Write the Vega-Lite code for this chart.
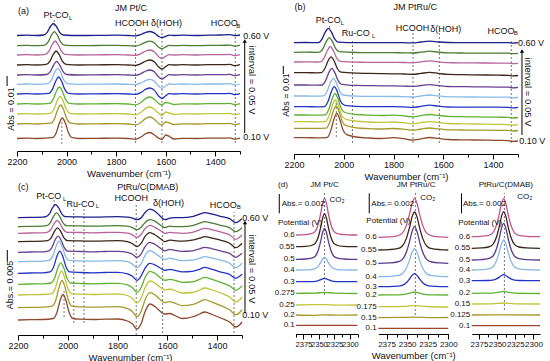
{
"$schema": "https://vega.github.io/schema/vega-lite/v6.json",
"width": 550, "height": 361,
"autosize": {"type": "none"},
"padding": 0,
"config": {
  "view": {"stroke": null},
  "font": "Liberation Sans",
  "axis": {"grid": false, "domainColor": "#000", "tickColor": "#000", "labelColor": "#111", "titleColor": "#111", "labelFontSize": 9, "titleFontSize": 9.5, "titleFontWeight": "normal", "labelPadding": 1, "titlePadding": 2, "labelFlush": false, "labelOverlap": false, "domainWidth": 1, "tickWidth": 1},
  "text": {"color": "#111", "font": "Liberation Sans"}
},
"resolve": {"scale": {"x": "independent", "y": "independent", "color": "independent"}},
"datasets": {
"A": [
{"s":"0.60","x":2200,"y":116.5},{"s":"0.60","x":2160,"y":116.8},{"s":"0.60","x":2120,"y":116.5},{"s":"0.60","x":2093,"y":117},{"s":"0.60","x":2078,"y":119.7},{"s":"0.60","x":2065,"y":125.5},{"s":"0.60","x":2053,"y":128.5},{"s":"0.60","x":2041,"y":125.5},{"s":"0.60","x":2028,"y":119.7},{"s":"0.60","x":2013,"y":117},{"s":"0.60","x":1950,"y":116.5},{"s":"0.60","x":1880,"y":116.6},{"s":"0.60","x":1800,"y":116.8},{"s":"0.60","x":1750,"y":116.5},{"s":"0.60","x":1722,"y":116.2},{"s":"0.60","x":1700,"y":117.5},{"s":"0.60","x":1680,"y":119.7},{"s":"0.60","x":1663,"y":120.5},{"s":"0.60","x":1645,"y":118.9},{"s":"0.60","x":1628,"y":115.5},{"s":"0.60","x":1615,"y":114.5},{"s":"0.60","x":1600,"y":115.7},{"s":"0.60","x":1585,"y":116.8},{"s":"0.60","x":1565,"y":116.5},{"s":"0.60","x":1530,"y":116.8},{"s":"0.60","x":1480,"y":116.5},{"s":"0.60","x":1430,"y":116.8},{"s":"0.60","x":1380,"y":117},{"s":"0.60","x":1340,"y":117.3},{"s":"0.60","x":1320,"y":116.3},{"s":"0.60","x":1300,"y":117},
{"s":"0.55","x":2200,"y":106.3},{"s":"0.55","x":2160,"y":106.6},{"s":"0.55","x":2120,"y":106.3},{"s":"0.55","x":2089,"y":106.9},{"s":"0.55","x":2074,"y":110.1},{"s":"0.55","x":2061,"y":116.8},{"s":"0.55","x":2049,"y":120.3},{"s":"0.55","x":2037,"y":116.8},{"s":"0.55","x":2024,"y":110.1},{"s":"0.55","x":2009,"y":106.9},{"s":"0.55","x":1950,"y":106.3},{"s":"0.55","x":1880,"y":106.5},{"s":"0.55","x":1800,"y":106.6},{"s":"0.55","x":1750,"y":106.3},{"s":"0.55","x":1722,"y":106},{"s":"0.55","x":1700,"y":107.5},{"s":"0.55","x":1680,"y":109.9},{"s":"0.55","x":1663,"y":110.8},{"s":"0.55","x":1645,"y":109},{"s":"0.55","x":1628,"y":104.8},{"s":"0.55","x":1615,"y":103.3},{"s":"0.55","x":1600,"y":105.1},{"s":"0.55","x":1585,"y":106.6},{"s":"0.55","x":1565,"y":106.3},{"s":"0.55","x":1530,"y":106.6},{"s":"0.55","x":1480,"y":106.3},{"s":"0.55","x":1430,"y":106.6},{"s":"0.55","x":1380,"y":106.6},{"s":"0.55","x":1340,"y":106.9},{"s":"0.55","x":1320,"y":105.8},{"s":"0.55","x":1300,"y":106.6},
{"s":"0.50","x":2200,"y":97},{"s":"0.50","x":2160,"y":97.3},{"s":"0.50","x":2120,"y":97},{"s":"0.50","x":2086,"y":97.6},{"s":"0.50","x":2071,"y":100.8},{"s":"0.50","x":2058,"y":107.5},{"s":"0.50","x":2046,"y":111},{"s":"0.50","x":2034,"y":107.5},{"s":"0.50","x":2021,"y":100.8},{"s":"0.50","x":2006,"y":97.6},{"s":"0.50","x":1950,"y":97},{"s":"0.50","x":1880,"y":97.2},{"s":"0.50","x":1800,"y":97.3},{"s":"0.50","x":1750,"y":97},{"s":"0.50","x":1722,"y":96.7},{"s":"0.50","x":1700,"y":98.3},{"s":"0.50","x":1680,"y":101},{"s":"0.50","x":1663,"y":102},{"s":"0.50","x":1645,"y":100},{"s":"0.50","x":1628,"y":95.2},{"s":"0.50","x":1615,"y":93.5},{"s":"0.50","x":1600,"y":95.6},{"s":"0.50","x":1585,"y":97.3},{"s":"0.50","x":1565,"y":97},{"s":"0.50","x":1530,"y":97.3},{"s":"0.50","x":1480,"y":97},{"s":"0.50","x":1430,"y":97.3},{"s":"0.50","x":1380,"y":97.3},{"s":"0.50","x":1340,"y":97.6},{"s":"0.50","x":1320,"y":96.3},{"s":"0.50","x":1300,"y":97.3},
{"s":"0.45","x":2200,"y":87},{"s":"0.45","x":2160,"y":87.3},{"s":"0.45","x":2120,"y":87},{"s":"0.45","x":2082,"y":87.6},{"s":"0.45","x":2067,"y":90.8},{"s":"0.45","x":2054,"y":97.5},{"s":"0.45","x":2042,"y":101},{"s":"0.45","x":2030,"y":97.5},{"s":"0.45","x":2017,"y":90.8},{"s":"0.45","x":2002,"y":87.6},{"s":"0.45","x":1950,"y":87},{"s":"0.45","x":1880,"y":87.2},{"s":"0.45","x":1800,"y":87.3},{"s":"0.45","x":1750,"y":87},{"s":"0.45","x":1722,"y":86.7},{"s":"0.45","x":1700,"y":88.3},{"s":"0.45","x":1680,"y":91},{"s":"0.45","x":1663,"y":92},{"s":"0.45","x":1645,"y":90},{"s":"0.45","x":1628,"y":85},{"s":"0.45","x":1615,"y":83},{"s":"0.45","x":1600,"y":85.4},{"s":"0.45","x":1585,"y":87.3},{"s":"0.45","x":1565,"y":87},{"s":"0.45","x":1530,"y":87.3},{"s":"0.45","x":1480,"y":87},{"s":"0.45","x":1430,"y":87.3},{"s":"0.45","x":1380,"y":87.3},{"s":"0.45","x":1340,"y":87.6},{"s":"0.45","x":1320,"y":86.3},{"s":"0.45","x":1300,"y":87.3},
{"s":"0.40","x":2200,"y":77},{"s":"0.40","x":2160,"y":77.3},{"s":"0.40","x":2120,"y":77},{"s":"0.40","x":2080,"y":77.5},{"s":"0.40","x":2065,"y":80.6},{"s":"0.40","x":2052,"y":87.1},{"s":"0.40","x":2040,"y":90.5},{"s":"0.40","x":2028,"y":87.1},{"s":"0.40","x":2015,"y":80.6},{"s":"0.40","x":2000,"y":77.5},{"s":"0.40","x":1950,"y":77},{"s":"0.40","x":1880,"y":77.2},{"s":"0.40","x":1800,"y":77.3},{"s":"0.40","x":1750,"y":77},{"s":"0.40","x":1722,"y":76.7},{"s":"0.40","x":1700,"y":78.3},{"s":"0.40","x":1680,"y":81},{"s":"0.40","x":1663,"y":82},{"s":"0.40","x":1645,"y":80},{"s":"0.40","x":1628,"y":75},{"s":"0.40","x":1615,"y":73},{"s":"0.40","x":1600,"y":75.4},{"s":"0.40","x":1585,"y":77.3},{"s":"0.40","x":1565,"y":77},{"s":"0.40","x":1530,"y":77.3},{"s":"0.40","x":1480,"y":77},{"s":"0.40","x":1430,"y":77.3},{"s":"0.40","x":1380,"y":77.3},{"s":"0.40","x":1340,"y":77.6},{"s":"0.40","x":1320,"y":76.3},{"s":"0.40","x":1300,"y":77.3},
{"s":"0.35","x":2200,"y":67.7},{"s":"0.35","x":2160,"y":68},{"s":"0.35","x":2120,"y":67.7},{"s":"0.35","x":2076,"y":68.3},{"s":"0.35","x":2061,"y":72},{"s":"0.35","x":2048,"y":79.7},{"s":"0.35","x":2036,"y":83.7},{"s":"0.35","x":2024,"y":79.7},{"s":"0.35","x":2011,"y":72},{"s":"0.35","x":1996,"y":68.3},{"s":"0.35","x":1950,"y":67.7},{"s":"0.35","x":1880,"y":67.9},{"s":"0.35","x":1800,"y":68},{"s":"0.35","x":1750,"y":67.7},{"s":"0.35","x":1722,"y":67.4},{"s":"0.35","x":1700,"y":69},{"s":"0.35","x":1680,"y":71.7},{"s":"0.35","x":1663,"y":72.7},{"s":"0.35","x":1645,"y":70.7},{"s":"0.35","x":1628,"y":65.7},{"s":"0.35","x":1615,"y":63.7},{"s":"0.35","x":1600,"y":66.1},{"s":"0.35","x":1585,"y":68},{"s":"0.35","x":1565,"y":67.7},{"s":"0.35","x":1530,"y":68},{"s":"0.35","x":1480,"y":67.7},{"s":"0.35","x":1430,"y":68},{"s":"0.35","x":1380,"y":68},{"s":"0.35","x":1340,"y":68.3},{"s":"0.35","x":1320,"y":67},{"s":"0.35","x":1300,"y":68},
{"s":"0.30","x":2200,"y":58},{"s":"0.30","x":2160,"y":58.3},{"s":"0.30","x":2120,"y":58},{"s":"0.30","x":2072,"y":58.7},{"s":"0.30","x":2057,"y":62.6},{"s":"0.30","x":2044,"y":70.8},{"s":"0.30","x":2032,"y":75},{"s":"0.30","x":2020,"y":70.8},{"s":"0.30","x":2007,"y":62.6},{"s":"0.30","x":1992,"y":58.7},{"s":"0.30","x":1950,"y":58},{"s":"0.30","x":1880,"y":58.2},{"s":"0.30","x":1800,"y":58.3},{"s":"0.30","x":1750,"y":58},{"s":"0.30","x":1722,"y":57.6},{"s":"0.30","x":1700,"y":59.5},{"s":"0.30","x":1680,"y":62.8},{"s":"0.30","x":1663,"y":64},{"s":"0.30","x":1645,"y":61.6},{"s":"0.30","x":1628,"y":55.8},{"s":"0.30","x":1615,"y":53.5},{"s":"0.30","x":1600,"y":56.2},{"s":"0.30","x":1585,"y":58.3},{"s":"0.30","x":1565,"y":58},{"s":"0.30","x":1530,"y":58.3},{"s":"0.30","x":1480,"y":58},{"s":"0.30","x":1430,"y":58.3},{"s":"0.30","x":1380,"y":58.3},{"s":"0.30","x":1340,"y":58.6},{"s":"0.30","x":1320,"y":57.3},{"s":"0.30","x":1300,"y":58.3},
{"s":"0.25","x":2200,"y":48},{"s":"0.25","x":2160,"y":48.3},{"s":"0.25","x":2120,"y":48},{"s":"0.25","x":2069,"y":48.7},{"s":"0.25","x":2054,"y":52.6},{"s":"0.25","x":2041,"y":60.8},{"s":"0.25","x":2029,"y":65},{"s":"0.25","x":2017,"y":60.8},{"s":"0.25","x":2004,"y":52.6},{"s":"0.25","x":1989,"y":48.7},{"s":"0.25","x":1950,"y":48},{"s":"0.25","x":1880,"y":48.2},{"s":"0.25","x":1800,"y":48.3},{"s":"0.25","x":1750,"y":48},{"s":"0.25","x":1722,"y":47.2},{"s":"0.25","x":1700,"y":49.5},{"s":"0.25","x":1680,"y":53.6},{"s":"0.25","x":1663,"y":55},{"s":"0.25","x":1645,"y":52.5},{"s":"0.25","x":1628,"y":48.5},{"s":"0.25","x":1615,"y":47},{"s":"0.25","x":1600,"y":49.5},{"s":"0.25","x":1585,"y":48.8},{"s":"0.25","x":1565,"y":47.5},{"s":"0.25","x":1530,"y":48.2},{"s":"0.25","x":1480,"y":48},{"s":"0.25","x":1430,"y":48.3},{"s":"0.25","x":1380,"y":48.3},{"s":"0.25","x":1340,"y":48.6},{"s":"0.25","x":1320,"y":47.3},{"s":"0.25","x":1300,"y":48.3},
{"s":"0.20","x":2200,"y":38},{"s":"0.20","x":2160,"y":38.3},{"s":"0.20","x":2120,"y":38},{"s":"0.20","x":2066,"y":38.7},{"s":"0.20","x":2051,"y":42.7},{"s":"0.20","x":2038,"y":51.1},{"s":"0.20","x":2026,"y":55.5},{"s":"0.20","x":2014,"y":51.1},{"s":"0.20","x":2001,"y":42.7},{"s":"0.20","x":1986,"y":38.7},{"s":"0.20","x":1950,"y":38},{"s":"0.20","x":1880,"y":38.2},{"s":"0.20","x":1800,"y":38.3},{"s":"0.20","x":1750,"y":38},{"s":"0.20","x":1722,"y":37.2},{"s":"0.20","x":1700,"y":39.5},{"s":"0.20","x":1680,"y":43.6},{"s":"0.20","x":1663,"y":45},{"s":"0.20","x":1645,"y":42.5},{"s":"0.20","x":1628,"y":38.5},{"s":"0.20","x":1615,"y":36.5},{"s":"0.20","x":1600,"y":40},{"s":"0.20","x":1585,"y":39},{"s":"0.20","x":1565,"y":37.5},{"s":"0.20","x":1530,"y":38.2},{"s":"0.20","x":1480,"y":38},{"s":"0.20","x":1430,"y":38.3},{"s":"0.20","x":1380,"y":38.3},{"s":"0.20","x":1340,"y":38.6},{"s":"0.20","x":1320,"y":37.3},{"s":"0.20","x":1300,"y":38.3},
{"s":"0.15","x":2200,"y":28},{"s":"0.15","x":2160,"y":28.3},{"s":"0.15","x":2120,"y":28},{"s":"0.15","x":2064,"y":28.8},{"s":"0.15","x":2049,"y":33.1},{"s":"0.15","x":2036,"y":42.3},{"s":"0.15","x":2024,"y":47},{"s":"0.15","x":2012,"y":42.3},{"s":"0.15","x":1999,"y":33.1},{"s":"0.15","x":1984,"y":28.8},{"s":"0.15","x":1950,"y":28},{"s":"0.15","x":1880,"y":28.2},{"s":"0.15","x":1800,"y":28.3},{"s":"0.15","x":1750,"y":28},{"s":"0.15","x":1722,"y":27.2},{"s":"0.15","x":1700,"y":29.5},{"s":"0.15","x":1680,"y":33.6},{"s":"0.15","x":1663,"y":35},{"s":"0.15","x":1645,"y":32.5},{"s":"0.15","x":1628,"y":28.5},{"s":"0.15","x":1615,"y":27},{"s":"0.15","x":1600,"y":30},{"s":"0.15","x":1585,"y":29},{"s":"0.15","x":1565,"y":27.5},{"s":"0.15","x":1530,"y":28.2},{"s":"0.15","x":1480,"y":28},{"s":"0.15","x":1430,"y":28.3},{"s":"0.15","x":1380,"y":28.3},{"s":"0.15","x":1340,"y":28.6},{"s":"0.15","x":1320,"y":27.3},{"s":"0.15","x":1300,"y":28.3},
{"s":"0.10","x":2200,"y":13.5},{"s":"0.10","x":2160,"y":13.8},{"s":"0.10","x":2120,"y":13.5},{"s":"0.10","x":2057,"y":14.3},{"s":"0.10","x":2042,"y":19},{"s":"0.10","x":2029,"y":28.9},{"s":"0.10","x":2017,"y":34},{"s":"0.10","x":2005,"y":28.9},{"s":"0.10","x":1992,"y":19},{"s":"0.10","x":1977,"y":14.3},{"s":"0.10","x":1950,"y":13.5},{"s":"0.10","x":1880,"y":13.7},{"s":"0.10","x":1800,"y":13.8},{"s":"0.10","x":1750,"y":13.5},{"s":"0.10","x":1722,"y":12.7},{"s":"0.10","x":1700,"y":15},{"s":"0.10","x":1680,"y":18.3},{"s":"0.10","x":1663,"y":19.5},{"s":"0.10","x":1645,"y":17},{"s":"0.10","x":1628,"y":13.8},{"s":"0.10","x":1615,"y":12.5},{"s":"0.10","x":1600,"y":17},{"s":"0.10","x":1585,"y":15.5},{"s":"0.10","x":1565,"y":13},{"s":"0.10","x":1530,"y":13.7},{"s":"0.10","x":1480,"y":13.5},{"s":"0.10","x":1430,"y":13.8},{"s":"0.10","x":1380,"y":13.8},{"s":"0.10","x":1340,"y":14.1},{"s":"0.10","x":1320,"y":12.8},{"s":"0.10","x":1300,"y":13.8}
],
"B": [
{"s":"0.60","x":2200,"y":109.3},{"s":"0.60","x":2150,"y":109.5},{"s":"0.60","x":2110,"y":109.3},{"s":"0.60","x":2102,"y":109.4},{"s":"0.60","x":2087,"y":113.2},{"s":"0.60","x":2074,"y":120.1},{"s":"0.60","x":2062,"y":123.7},{"s":"0.60","x":2050,"y":120.1},{"s":"0.60","x":2037,"y":113.2},{"s":"0.60","x":2022,"y":109.9},{"s":"0.60","x":1950,"y":109.3},{"s":"0.60","x":1900,"y":109.3},{"s":"0.60","x":1850,"y":109.4},{"s":"0.60","x":1800,"y":109.3},{"s":"0.60","x":1760,"y":109.3},{"s":"0.60","x":1722,"y":109.1},{"s":"0.60","x":1690,"y":110},{"s":"0.60","x":1655,"y":110.8},{"s":"0.60","x":1620,"y":110},{"s":"0.60","x":1580,"y":109.5},{"s":"0.60","x":1530,"y":109.3},{"s":"0.60","x":1480,"y":109.3},{"s":"0.60","x":1430,"y":109.4},{"s":"0.60","x":1380,"y":109.3},{"s":"0.60","x":1340,"y":109.4},{"s":"0.60","x":1320,"y":108.8},{"s":"0.60","x":1300,"y":109.3},
{"s":"0.55","x":2200,"y":99.7},{"s":"0.55","x":2150,"y":99.8},{"s":"0.55","x":2110,"y":99.7},{"s":"0.55","x":2098,"y":99.8},{"s":"0.55","x":2083,"y":103.6},{"s":"0.55","x":2070,"y":110.6},{"s":"0.55","x":2058,"y":114.3},{"s":"0.55","x":2046,"y":110.6},{"s":"0.55","x":2033,"y":103.6},{"s":"0.55","x":2018,"y":100.3},{"s":"0.55","x":1950,"y":99.5},{"s":"0.55","x":1900,"y":99.4},{"s":"0.55","x":1850,"y":99.4},{"s":"0.55","x":1800,"y":99.3},{"s":"0.55","x":1760,"y":99.2},{"s":"0.55","x":1722,"y":99},{"s":"0.55","x":1690,"y":99.8},{"s":"0.55","x":1655,"y":100.8},{"s":"0.55","x":1620,"y":99.8},{"s":"0.55","x":1580,"y":99.1},{"s":"0.55","x":1530,"y":99},{"s":"0.55","x":1480,"y":98.9},{"s":"0.55","x":1430,"y":98.9},{"s":"0.55","x":1380,"y":98.8},{"s":"0.55","x":1340,"y":98.8},{"s":"0.55","x":1320,"y":98.3},{"s":"0.55","x":1300,"y":98.7},
{"s":"0.50","x":2200,"y":90},{"s":"0.50","x":2150,"y":90.1},{"s":"0.50","x":2110,"y":90},{"s":"0.50","x":2094,"y":90.1},{"s":"0.50","x":2079,"y":94.1},{"s":"0.50","x":2066,"y":101.5},{"s":"0.50","x":2054,"y":105.3},{"s":"0.50","x":2042,"y":101.5},{"s":"0.50","x":2029,"y":94.1},{"s":"0.50","x":2014,"y":90.6},{"s":"0.50","x":1950,"y":89.8},{"s":"0.50","x":1900,"y":89.7},{"s":"0.50","x":1850,"y":89.7},{"s":"0.50","x":1800,"y":89.6},{"s":"0.50","x":1760,"y":89.5},{"s":"0.50","x":1722,"y":89.2},{"s":"0.50","x":1690,"y":90.2},{"s":"0.50","x":1655,"y":91.2},{"s":"0.50","x":1620,"y":90.2},{"s":"0.50","x":1580,"y":89.3},{"s":"0.50","x":1530,"y":89.2},{"s":"0.50","x":1480,"y":89.1},{"s":"0.50","x":1430,"y":89},{"s":"0.50","x":1380,"y":88.9},{"s":"0.50","x":1340,"y":88.8},{"s":"0.50","x":1320,"y":88.3},{"s":"0.50","x":1300,"y":88.7},
{"s":"0.45","x":2200,"y":79.3},{"s":"0.45","x":2150,"y":79.3},{"s":"0.45","x":2110,"y":79.2},{"s":"0.45","x":2091,"y":79.3},{"s":"0.45","x":2076,"y":83.5},{"s":"0.45","x":2063,"y":91.2},{"s":"0.45","x":2051,"y":95.2},{"s":"0.45","x":2039,"y":91.2},{"s":"0.45","x":2026,"y":83.5},{"s":"0.45","x":2011,"y":79.8},{"s":"0.45","x":1950,"y":78.8},{"s":"0.45","x":1900,"y":78.6},{"s":"0.45","x":1850,"y":78.4},{"s":"0.45","x":1800,"y":78.2},{"s":"0.45","x":1760,"y":78},{"s":"0.45","x":1722,"y":77.7},{"s":"0.45","x":1690,"y":78.6},{"s":"0.45","x":1655,"y":79.6},{"s":"0.45","x":1620,"y":78.6},{"s":"0.45","x":1580,"y":77.6},{"s":"0.45","x":1530,"y":77.4},{"s":"0.45","x":1480,"y":77.2},{"s":"0.45","x":1430,"y":77},{"s":"0.45","x":1380,"y":76.8},{"s":"0.45","x":1340,"y":76.7},{"s":"0.45","x":1320,"y":76.1},{"s":"0.45","x":1300,"y":76.5},
{"s":"0.40","x":2200,"y":67},{"s":"0.40","x":2150,"y":67},{"s":"0.40","x":2110,"y":66.9},{"s":"0.40","x":2088,"y":67},{"s":"0.40","x":2073,"y":71.4},{"s":"0.40","x":2060,"y":79.4},{"s":"0.40","x":2048,"y":83.7},{"s":"0.40","x":2036,"y":79.4},{"s":"0.40","x":2023,"y":71.4},{"s":"0.40","x":2008,"y":67.7},{"s":"0.40","x":1950,"y":66.6},{"s":"0.40","x":1900,"y":66.4},{"s":"0.40","x":1850,"y":66.2},{"s":"0.40","x":1800,"y":66.1},{"s":"0.40","x":1760,"y":65.9},{"s":"0.40","x":1722,"y":65.6},{"s":"0.40","x":1690,"y":66.5},{"s":"0.40","x":1655,"y":67.4},{"s":"0.40","x":1620,"y":66.4},{"s":"0.40","x":1580,"y":65.5},{"s":"0.40","x":1530,"y":65.4},{"s":"0.40","x":1480,"y":65.2},{"s":"0.40","x":1430,"y":65.1},{"s":"0.40","x":1380,"y":64.9},{"s":"0.40","x":1340,"y":64.8},{"s":"0.40","x":1320,"y":64.2},{"s":"0.40","x":1300,"y":64.7},
{"s":"0.35","x":2200,"y":56},{"s":"0.35","x":2150,"y":56},{"s":"0.35","x":2110,"y":55.9},{"s":"0.35","x":2082,"y":56.1},{"s":"0.35","x":2067,"y":60.8},{"s":"0.35","x":2054,"y":69.3},{"s":"0.35","x":2042,"y":73.7},{"s":"0.35","x":2030,"y":69.3},{"s":"0.35","x":2017,"y":60.8},{"s":"0.35","x":2002,"y":57},{"s":"0.35","x":1950,"y":55.8},{"s":"0.35","x":1900,"y":55.6},{"s":"0.35","x":1850,"y":55.6},{"s":"0.35","x":1800,"y":55.5},{"s":"0.35","x":1760,"y":55.4},{"s":"0.35","x":1722,"y":55},{"s":"0.35","x":1690,"y":56},{"s":"0.35","x":1655,"y":57},{"s":"0.35","x":1620,"y":56},{"s":"0.35","x":1580,"y":55.2},{"s":"0.35","x":1530,"y":55.1},{"s":"0.35","x":1480,"y":55},{"s":"0.35","x":1430,"y":54.9},{"s":"0.35","x":1380,"y":54.8},{"s":"0.35","x":1340,"y":54.8},{"s":"0.35","x":1320,"y":54.2},{"s":"0.35","x":1300,"y":54.7},
{"s":"0.30","x":2200,"y":45.3},{"s":"0.30","x":2150,"y":45.3},{"s":"0.30","x":2110,"y":45.2},{"s":"0.30","x":2078,"y":45.4},{"s":"0.30","x":2063,"y":50.7},{"s":"0.30","x":2050,"y":60.3},{"s":"0.30","x":2038,"y":65.3},{"s":"0.30","x":2026,"y":60.3},{"s":"0.30","x":2013,"y":50.7},{"s":"0.30","x":1998,"y":46.8},{"s":"0.30","x":1950,"y":45.6},{"s":"0.30","x":1900,"y":45.3},{"s":"0.30","x":1850,"y":45.3},{"s":"0.30","x":1800,"y":45.4},{"s":"0.30","x":1760,"y":45.1},{"s":"0.30","x":1722,"y":44.6},{"s":"0.30","x":1690,"y":45.7},{"s":"0.30","x":1655,"y":46.8},{"s":"0.30","x":1620,"y":45.8},{"s":"0.30","x":1580,"y":45},{"s":"0.30","x":1530,"y":44.9},{"s":"0.30","x":1480,"y":44.9},{"s":"0.30","x":1430,"y":44.8},{"s":"0.30","x":1380,"y":44.8},{"s":"0.30","x":1340,"y":44.7},{"s":"0.30","x":1320,"y":44.2},{"s":"0.30","x":1300,"y":44.7},
{"s":"0.25","x":2200,"y":37},{"s":"0.25","x":2150,"y":37},{"s":"0.25","x":2110,"y":36.9},{"s":"0.25","x":2075,"y":37.1},{"s":"0.25","x":2060,"y":42.8},{"s":"0.25","x":2047,"y":53},{"s":"0.25","x":2035,"y":58.5},{"s":"0.25","x":2023,"y":53},{"s":"0.25","x":2010,"y":43.5},{"s":"0.25","x":1995,"y":39.5},{"s":"0.25","x":1950,"y":37.5},{"s":"0.25","x":1900,"y":36.8},{"s":"0.25","x":1850,"y":36.5},{"s":"0.25","x":1800,"y":36.9},{"s":"0.25","x":1760,"y":36.2},{"s":"0.25","x":1722,"y":35.2},{"s":"0.25","x":1690,"y":36.4},{"s":"0.25","x":1655,"y":37.5},{"s":"0.25","x":1620,"y":36.6},{"s":"0.25","x":1580,"y":35.6},{"s":"0.25","x":1530,"y":35.3},{"s":"0.25","x":1480,"y":35.1},{"s":"0.25","x":1430,"y":34.9},{"s":"0.25","x":1380,"y":34.8},{"s":"0.25","x":1340,"y":34.6},{"s":"0.25","x":1320,"y":34},{"s":"0.25","x":1300,"y":34.5},
{"s":"0.20","x":2200,"y":30.3},{"s":"0.20","x":2150,"y":30.3},{"s":"0.20","x":2110,"y":30.2},{"s":"0.20","x":2074,"y":30.4},{"s":"0.20","x":2059,"y":36.2},{"s":"0.20","x":2046,"y":46.5},{"s":"0.20","x":2034,"y":52},{"s":"0.20","x":2022,"y":46.5},{"s":"0.20","x":2009,"y":37},{"s":"0.20","x":1994,"y":33},{"s":"0.20","x":1950,"y":30.8},{"s":"0.20","x":1900,"y":30},{"s":"0.20","x":1850,"y":29.6},{"s":"0.20","x":1800,"y":30},{"s":"0.20","x":1760,"y":29.3},{"s":"0.20","x":1722,"y":28.2},{"s":"0.20","x":1690,"y":29.4},{"s":"0.20","x":1655,"y":30.4},{"s":"0.20","x":1620,"y":29.5},{"s":"0.20","x":1580,"y":28.5},{"s":"0.20","x":1530,"y":28.2},{"s":"0.20","x":1480,"y":28},{"s":"0.20","x":1430,"y":27.8},{"s":"0.20","x":1380,"y":27.6},{"s":"0.20","x":1340,"y":27.4},{"s":"0.20","x":1320,"y":26.8},{"s":"0.20","x":1300,"y":27.3},
{"s":"0.15","x":2200,"y":23.7},{"s":"0.15","x":2150,"y":23.7},{"s":"0.15","x":2110,"y":23.6},{"s":"0.15","x":2071,"y":23.8},{"s":"0.15","x":2056,"y":29.7},{"s":"0.15","x":2043,"y":40.3},{"s":"0.15","x":2031,"y":46},{"s":"0.15","x":2019,"y":40.3},{"s":"0.15","x":2006,"y":30.5},{"s":"0.15","x":1991,"y":26.3},{"s":"0.15","x":1950,"y":24.2},{"s":"0.15","x":1900,"y":23.4},{"s":"0.15","x":1850,"y":23},{"s":"0.15","x":1800,"y":23.5},{"s":"0.15","x":1760,"y":22.9},{"s":"0.15","x":1722,"y":21.8},{"s":"0.15","x":1690,"y":23},{"s":"0.15","x":1655,"y":24},{"s":"0.15","x":1620,"y":23.1},{"s":"0.15","x":1580,"y":22.2},{"s":"0.15","x":1530,"y":22},{"s":"0.15","x":1480,"y":21.9},{"s":"0.15","x":1430,"y":21.8},{"s":"0.15","x":1380,"y":21.7},{"s":"0.15","x":1340,"y":21.6},{"s":"0.15","x":1320,"y":21},{"s":"0.15","x":1300,"y":21.5},
{"s":"0.10","x":2200,"y":14.3},{"s":"0.10","x":2150,"y":14.3},{"s":"0.10","x":2110,"y":14.2},{"s":"0.10","x":2068,"y":14.4},{"s":"0.10","x":2053,"y":20.8},{"s":"0.10","x":2040,"y":32.5},{"s":"0.10","x":2028,"y":38.7},{"s":"0.10","x":2016,"y":32.5},{"s":"0.10","x":2003,"y":22},{"s":"0.10","x":1988,"y":17.3},{"s":"0.10","x":1950,"y":15},{"s":"0.10","x":1900,"y":14},{"s":"0.10","x":1850,"y":13.5},{"s":"0.10","x":1800,"y":14.3},{"s":"0.10","x":1760,"y":13.3},{"s":"0.10","x":1722,"y":11.8},{"s":"0.10","x":1690,"y":13.2},{"s":"0.10","x":1655,"y":14.5},{"s":"0.10","x":1620,"y":13.6},{"s":"0.10","x":1580,"y":12.5},{"s":"0.10","x":1530,"y":12.2},{"s":"0.10","x":1480,"y":12},{"s":"0.10","x":1430,"y":11.8},{"s":"0.10","x":1380,"y":11.6},{"s":"0.10","x":1340,"y":11.4},{"s":"0.10","x":1320,"y":10.6},{"s":"0.10","x":1300,"y":11}
],
"C": [
{"s":"0.60","x":2200,"y":117.3},{"s":"0.60","x":2150,"y":117.6},{"s":"0.60","x":2100,"y":117.8},{"s":"0.60","x":2089,"y":118.3},{"s":"0.60","x":2074,"y":121.2},{"s":"0.60","x":2061,"y":127.3},{"s":"0.60","x":2049,"y":130.5},{"s":"0.60","x":2037,"y":127.3},{"s":"0.60","x":2024,"y":121.2},{"s":"0.60","x":2009,"y":118.3},{"s":"0.60","x":1950,"y":118.1},{"s":"0.60","x":1900,"y":117.8},{"s":"0.60","x":1850,"y":118.1},{"s":"0.60","x":1800,"y":118.3},{"s":"0.60","x":1760,"y":117.8},{"s":"0.60","x":1740,"y":116.8},{"s":"0.60","x":1722,"y":115.3},{"s":"0.60","x":1705,"y":117.3},{"s":"0.60","x":1690,"y":122.3},{"s":"0.60","x":1670,"y":125.8},{"s":"0.60","x":1650,"y":123.8},{"s":"0.60","x":1630,"y":119.3},{"s":"0.60","x":1610,"y":115.3},{"s":"0.60","x":1590,"y":116.8},{"s":"0.60","x":1570,"y":117.3},{"s":"0.60","x":1540,"y":117.3},{"s":"0.60","x":1500,"y":118.3},{"s":"0.60","x":1470,"y":120.8},{"s":"0.60","x":1450,"y":122.3},{"s":"0.60","x":1420,"y":120.8},{"s":"0.60","x":1380,"y":118.3},{"s":"0.60","x":1350,"y":116.3},{"s":"0.60","x":1325,"y":112.3},{"s":"0.60","x":1310,"y":114.3},{"s":"0.60","x":1300,"y":116.3},
{"s":"0.55","x":2200,"y":108.3},{"s":"0.55","x":2150,"y":108.6},{"s":"0.55","x":2100,"y":108.8},{"s":"0.55","x":2085,"y":109.3},{"s":"0.55","x":2070,"y":112.4},{"s":"0.55","x":2057,"y":118.8},{"s":"0.55","x":2045,"y":122.1},{"s":"0.55","x":2033,"y":118.8},{"s":"0.55","x":2020,"y":112.4},{"s":"0.55","x":2005,"y":109.3},{"s":"0.55","x":1950,"y":109.1},{"s":"0.55","x":1900,"y":108.8},{"s":"0.55","x":1850,"y":109.1},{"s":"0.55","x":1800,"y":109.3},{"s":"0.55","x":1760,"y":108.8},{"s":"0.55","x":1740,"y":107.3},{"s":"0.55","x":1722,"y":105.3},{"s":"0.55","x":1705,"y":107.8},{"s":"0.55","x":1690,"y":112.3},{"s":"0.55","x":1670,"y":115.3},{"s":"0.55","x":1650,"y":113.8},{"s":"0.55","x":1630,"y":110.3},{"s":"0.55","x":1610,"y":107.3},{"s":"0.55","x":1590,"y":108.8},{"s":"0.55","x":1570,"y":108.3},{"s":"0.55","x":1540,"y":108.3},{"s":"0.55","x":1500,"y":109.3},{"s":"0.55","x":1470,"y":111.8},{"s":"0.55","x":1450,"y":113.3},{"s":"0.55","x":1420,"y":111.8},{"s":"0.55","x":1380,"y":109.3},{"s":"0.55","x":1350,"y":107.3},{"s":"0.55","x":1325,"y":103.3},{"s":"0.55","x":1310,"y":105.3},{"s":"0.55","x":1300,"y":107.3},
{"s":"0.50","x":2200,"y":101.7},{"s":"0.50","x":2150,"y":102},{"s":"0.50","x":2100,"y":102.2},{"s":"0.50","x":2083,"y":102.7},{"s":"0.50","x":2068,"y":105.5},{"s":"0.50","x":2055,"y":111.4},{"s":"0.50","x":2043,"y":114.5},{"s":"0.50","x":2031,"y":111.4},{"s":"0.50","x":2018,"y":105.5},{"s":"0.50","x":2003,"y":102.7},{"s":"0.50","x":1950,"y":102.5},{"s":"0.50","x":1900,"y":102.2},{"s":"0.50","x":1850,"y":102.5},{"s":"0.50","x":1800,"y":102.7},{"s":"0.50","x":1760,"y":101.9},{"s":"0.50","x":1740,"y":100.2},{"s":"0.50","x":1722,"y":97.7},{"s":"0.50","x":1705,"y":100.7},{"s":"0.50","x":1690,"y":106.2},{"s":"0.50","x":1670,"y":109.7},{"s":"0.50","x":1650,"y":107.7},{"s":"0.50","x":1630,"y":104.7},{"s":"0.50","x":1610,"y":101.7},{"s":"0.50","x":1590,"y":102.7},{"s":"0.50","x":1570,"y":102.2},{"s":"0.50","x":1540,"y":101.7},{"s":"0.50","x":1500,"y":102.7},{"s":"0.50","x":1470,"y":105.2},{"s":"0.50","x":1450,"y":106.7},{"s":"0.50","x":1420,"y":105.2},{"s":"0.50","x":1380,"y":102.7},{"s":"0.50","x":1350,"y":100.2},{"s":"0.50","x":1325,"y":95.7},{"s":"0.50","x":1310,"y":97.7},{"s":"0.50","x":1300,"y":100.2},
{"s":"0.45","x":2200,"y":93.3},{"s":"0.45","x":2150,"y":93.6},{"s":"0.45","x":2100,"y":93.8},{"s":"0.45","x":2081,"y":94.3},{"s":"0.45","x":2066,"y":97.4},{"s":"0.45","x":2053,"y":103.8},{"s":"0.45","x":2041,"y":107.1},{"s":"0.45","x":2029,"y":103.8},{"s":"0.45","x":2016,"y":97.4},{"s":"0.45","x":2001,"y":94.3},{"s":"0.45","x":1950,"y":94.1},{"s":"0.45","x":1900,"y":93.8},{"s":"0.45","x":1850,"y":94.1},{"s":"0.45","x":1800,"y":94.3},{"s":"0.45","x":1760,"y":93.3},{"s":"0.45","x":1740,"y":91.3},{"s":"0.45","x":1722,"y":88.3},{"s":"0.45","x":1705,"y":91.8},{"s":"0.45","x":1690,"y":98.3},{"s":"0.45","x":1670,"y":102.3},{"s":"0.45","x":1650,"y":100.3},{"s":"0.45","x":1630,"y":96.8},{"s":"0.45","x":1610,"y":93.3},{"s":"0.45","x":1590,"y":94.8},{"s":"0.45","x":1570,"y":94.3},{"s":"0.45","x":1540,"y":93.8},{"s":"0.45","x":1500,"y":94.8},{"s":"0.45","x":1470,"y":96.8},{"s":"0.45","x":1450,"y":98.3},{"s":"0.45","x":1420,"y":96.8},{"s":"0.45","x":1380,"y":94.3},{"s":"0.45","x":1350,"y":91.8},{"s":"0.45","x":1325,"y":87.3},{"s":"0.45","x":1310,"y":89.3},{"s":"0.45","x":1300,"y":91.8},
{"s":"0.40","x":2200,"y":82.7},{"s":"0.40","x":2150,"y":83},{"s":"0.40","x":2100,"y":83.2},{"s":"0.40","x":2079,"y":83.8},{"s":"0.40","x":2064,"y":87.4},{"s":"0.40","x":2051,"y":95},{"s":"0.40","x":2039,"y":98.9},{"s":"0.40","x":2027,"y":95},{"s":"0.40","x":2014,"y":87.4},{"s":"0.40","x":1999,"y":83.8},{"s":"0.40","x":1950,"y":83.5},{"s":"0.40","x":1900,"y":83.2},{"s":"0.40","x":1850,"y":83.5},{"s":"0.40","x":1800,"y":83.7},{"s":"0.40","x":1760,"y":82.7},{"s":"0.40","x":1740,"y":80.7},{"s":"0.40","x":1722,"y":77.7},{"s":"0.40","x":1705,"y":81.2},{"s":"0.40","x":1690,"y":88.2},{"s":"0.40","x":1670,"y":92.7},{"s":"0.40","x":1650,"y":90.7},{"s":"0.40","x":1630,"y":87.2},{"s":"0.40","x":1610,"y":84.2},{"s":"0.40","x":1590,"y":85.7},{"s":"0.40","x":1570,"y":84.7},{"s":"0.40","x":1540,"y":83.7},{"s":"0.40","x":1500,"y":84.2},{"s":"0.40","x":1470,"y":86.2},{"s":"0.40","x":1450,"y":87.7},{"s":"0.40","x":1420,"y":86.2},{"s":"0.40","x":1380,"y":83.7},{"s":"0.40","x":1350,"y":81.7},{"s":"0.40","x":1325,"y":77.7},{"s":"0.40","x":1310,"y":79.7},{"s":"0.40","x":1300,"y":81.7},
{"s":"0.35","x":2200,"y":73.3},{"s":"0.35","x":2150,"y":73.6},{"s":"0.35","x":2100,"y":73.8},{"s":"0.35","x":2075,"y":74.6},{"s":"0.35","x":2060,"y":79.2},{"s":"0.35","x":2047,"y":88.8},{"s":"0.35","x":2035,"y":93.8},{"s":"0.35","x":2023,"y":88.8},{"s":"0.35","x":2010,"y":79.2},{"s":"0.35","x":1995,"y":74.6},{"s":"0.35","x":1950,"y":74.1},{"s":"0.35","x":1900,"y":73.8},{"s":"0.35","x":1850,"y":74.1},{"s":"0.35","x":1800,"y":74.3},{"s":"0.35","x":1760,"y":73.3},{"s":"0.35","x":1740,"y":70.8},{"s":"0.35","x":1722,"y":67.3},{"s":"0.35","x":1705,"y":71.3},{"s":"0.35","x":1690,"y":79.3},{"s":"0.35","x":1670,"y":84.3},{"s":"0.35","x":1650,"y":81.8},{"s":"0.35","x":1630,"y":78.3},{"s":"0.35","x":1610,"y":75.3},{"s":"0.35","x":1590,"y":76.8},{"s":"0.35","x":1570,"y":75.8},{"s":"0.35","x":1540,"y":74.3},{"s":"0.35","x":1500,"y":74.8},{"s":"0.35","x":1470,"y":76.8},{"s":"0.35","x":1450,"y":78.3},{"s":"0.35","x":1420,"y":76.8},{"s":"0.35","x":1380,"y":74.3},{"s":"0.35","x":1350,"y":71.8},{"s":"0.35","x":1325,"y":67.3},{"s":"0.35","x":1310,"y":69.3},{"s":"0.35","x":1300,"y":71.8},
{"s":"0.30","x":2200,"y":61.7},{"s":"0.30","x":2150,"y":62},{"s":"0.30","x":2100,"y":62.2},{"s":"0.30","x":2072,"y":63.1},{"s":"0.30","x":2057,"y":68.1},{"s":"0.30","x":2044,"y":78.5},{"s":"0.30","x":2032,"y":83.9},{"s":"0.30","x":2020,"y":78.5},{"s":"0.30","x":2007,"y":68.1},{"s":"0.30","x":1992,"y":63.1},{"s":"0.30","x":1950,"y":62.5},{"s":"0.30","x":1900,"y":62.2},{"s":"0.30","x":1850,"y":62.5},{"s":"0.30","x":1800,"y":62.7},{"s":"0.30","x":1760,"y":61.2},{"s":"0.30","x":1740,"y":58.7},{"s":"0.30","x":1722,"y":54.7},{"s":"0.30","x":1705,"y":59.2},{"s":"0.30","x":1690,"y":66.7},{"s":"0.30","x":1670,"y":71.7},{"s":"0.30","x":1650,"y":70.2},{"s":"0.30","x":1630,"y":67.2},{"s":"0.30","x":1610,"y":64.7},{"s":"0.30","x":1590,"y":65.7},{"s":"0.30","x":1570,"y":64.7},{"s":"0.30","x":1540,"y":63.2},{"s":"0.30","x":1500,"y":63.7},{"s":"0.30","x":1470,"y":65.7},{"s":"0.30","x":1450,"y":67.7},{"s":"0.30","x":1420,"y":65.7},{"s":"0.30","x":1380,"y":62.7},{"s":"0.30","x":1350,"y":60.7},{"s":"0.30","x":1325,"y":56.7},{"s":"0.30","x":1310,"y":58.7},{"s":"0.30","x":1300,"y":60.7},
{"s":"0.25","x":2200,"y":50.7},{"s":"0.25","x":2150,"y":51},{"s":"0.25","x":2100,"y":51.2},{"s":"0.25","x":2068,"y":52},{"s":"0.25","x":2053,"y":56.9},{"s":"0.25","x":2040,"y":67},{"s":"0.25","x":2028,"y":72.2},{"s":"0.25","x":2016,"y":67},{"s":"0.25","x":2003,"y":56.9},{"s":"0.25","x":1988,"y":52},{"s":"0.25","x":1950,"y":51.5},{"s":"0.25","x":1900,"y":51.2},{"s":"0.25","x":1850,"y":51.5},{"s":"0.25","x":1800,"y":51.7},{"s":"0.25","x":1760,"y":50.2},{"s":"0.25","x":1740,"y":47.2},{"s":"0.25","x":1722,"y":42.7},{"s":"0.25","x":1705,"y":47.7},{"s":"0.25","x":1690,"y":57.2},{"s":"0.25","x":1670,"y":63.7},{"s":"0.25","x":1650,"y":61.7},{"s":"0.25","x":1630,"y":57.7},{"s":"0.25","x":1610,"y":54.7},{"s":"0.25","x":1590,"y":55.7},{"s":"0.25","x":1570,"y":54.7},{"s":"0.25","x":1540,"y":52.7},{"s":"0.25","x":1500,"y":53.2},{"s":"0.25","x":1470,"y":55.7},{"s":"0.25","x":1450,"y":57.7},{"s":"0.25","x":1420,"y":55.7},{"s":"0.25","x":1380,"y":52.2},{"s":"0.25","x":1350,"y":49.2},{"s":"0.25","x":1325,"y":44.7},{"s":"0.25","x":1310,"y":46.7},{"s":"0.25","x":1300,"y":49.2},
{"s":"0.20","x":2200,"y":40},{"s":"0.20","x":2150,"y":40.3},{"s":"0.20","x":2100,"y":40.5},{"s":"0.20","x":2065,"y":41.4},{"s":"0.20","x":2050,"y":46.8},{"s":"0.20","x":2037,"y":58},{"s":"0.20","x":2025,"y":63.8},{"s":"0.20","x":2013,"y":58},{"s":"0.20","x":2000,"y":46.8},{"s":"0.20","x":1985,"y":41.4},{"s":"0.20","x":1950,"y":40.8},{"s":"0.20","x":1900,"y":40.5},{"s":"0.20","x":1850,"y":40.8},{"s":"0.20","x":1800,"y":41},{"s":"0.20","x":1760,"y":39.5},{"s":"0.20","x":1740,"y":36.5},{"s":"0.20","x":1722,"y":32},{"s":"0.20","x":1705,"y":37},{"s":"0.20","x":1690,"y":47},{"s":"0.20","x":1670,"y":54},{"s":"0.20","x":1650,"y":52},{"s":"0.20","x":1630,"y":48},{"s":"0.20","x":1610,"y":45},{"s":"0.20","x":1590,"y":46},{"s":"0.20","x":1570,"y":44.5},{"s":"0.20","x":1540,"y":42},{"s":"0.20","x":1500,"y":42.5},{"s":"0.20","x":1470,"y":45},{"s":"0.20","x":1450,"y":47},{"s":"0.20","x":1420,"y":45},{"s":"0.20","x":1380,"y":41.5},{"s":"0.20","x":1350,"y":38},{"s":"0.20","x":1325,"y":33},{"s":"0.20","x":1310,"y":35},{"s":"0.20","x":1300,"y":38},
{"s":"0.15","x":2200,"y":27.3},{"s":"0.15","x":2150,"y":27.6},{"s":"0.15","x":2100,"y":27.8},{"s":"0.15","x":2063,"y":28.9},{"s":"0.15","x":2048,"y":35},{"s":"0.15","x":2035,"y":47.8},{"s":"0.15","x":2023,"y":54.5},{"s":"0.15","x":2011,"y":47.8},{"s":"0.15","x":1998,"y":35},{"s":"0.15","x":1983,"y":28.9},{"s":"0.15","x":1950,"y":28.1},{"s":"0.15","x":1900,"y":27.8},{"s":"0.15","x":1850,"y":28.1},{"s":"0.15","x":1800,"y":28.3},{"s":"0.15","x":1760,"y":26.3},{"s":"0.15","x":1740,"y":23.3},{"s":"0.15","x":1722,"y":18.3},{"s":"0.15","x":1705,"y":23.8},{"s":"0.15","x":1690,"y":34.8},{"s":"0.15","x":1670,"y":42.3},{"s":"0.15","x":1650,"y":40.3},{"s":"0.15","x":1630,"y":35.8},{"s":"0.15","x":1610,"y":32.3},{"s":"0.15","x":1590,"y":33.3},{"s":"0.15","x":1570,"y":31.8},{"s":"0.15","x":1540,"y":29.3},{"s":"0.15","x":1500,"y":30.3},{"s":"0.15","x":1470,"y":33.3},{"s":"0.15","x":1450,"y":35.3},{"s":"0.15","x":1420,"y":32.8},{"s":"0.15","x":1380,"y":28.8},{"s":"0.15","x":1350,"y":25.3},{"s":"0.15","x":1325,"y":20.3},{"s":"0.15","x":1310,"y":22.3},{"s":"0.15","x":1300,"y":25.3},
{"s":"0.10","x":2200,"y":15},{"s":"0.10","x":2150,"y":15.3},{"s":"0.10","x":2100,"y":15.5},{"s":"0.10","x":2059,"y":16.5},{"s":"0.10","x":2044,"y":22.3},{"s":"0.10","x":2031,"y":34.3},{"s":"0.10","x":2019,"y":40.5},{"s":"0.10","x":2007,"y":34.3},{"s":"0.10","x":1994,"y":22.3},{"s":"0.10","x":1979,"y":16.5},{"s":"0.10","x":1950,"y":15.8},{"s":"0.10","x":1900,"y":15.5},{"s":"0.10","x":1850,"y":15.8},{"s":"0.10","x":1800,"y":16},{"s":"0.10","x":1760,"y":14},{"s":"0.10","x":1740,"y":11},{"s":"0.10","x":1722,"y":6},{"s":"0.10","x":1705,"y":11.5},{"s":"0.10","x":1690,"y":23},{"s":"0.10","x":1670,"y":31},{"s":"0.10","x":1650,"y":28.5},{"s":"0.10","x":1630,"y":24},{"s":"0.10","x":1610,"y":21},{"s":"0.10","x":1590,"y":21.5},{"s":"0.10","x":1570,"y":19.5},{"s":"0.10","x":1540,"y":16.5},{"s":"0.10","x":1500,"y":18},{"s":"0.10","x":1470,"y":21},{"s":"0.10","x":1450,"y":23},{"s":"0.10","x":1420,"y":20.5},{"s":"0.10","x":1380,"y":16.5},{"s":"0.10","x":1350,"y":13},{"s":"0.10","x":1325,"y":8},{"s":"0.10","x":1310,"y":10},{"s":"0.10","x":1300,"y":13}
],
"D1": [
{"s":"0.6","x":2387,"y":100},{"s":"0.6","x":2372,"y":100.4},{"s":"0.6","x":2362,"y":101.3},{"s":"0.6","x":2356,"y":103.7},{"s":"0.6","x":2351,"y":111},{"s":"0.6","x":2347,"y":122},{"s":"0.6","x":2344,"y":131.9},{"s":"0.6","x":2341,"y":136.7},{"s":"0.6","x":2338,"y":131.9},{"s":"0.6","x":2335,"y":122},{"s":"0.6","x":2331,"y":111},{"s":"0.6","x":2326,"y":103.7},{"s":"0.6","x":2320,"y":101.3},{"s":"0.6","x":2310,"y":100.4},{"s":"0.6","x":2298,"y":100},{"s":"0.6","x":2288,"y":100},
{"s":"0.55","x":2387,"y":88.3},{"s":"0.55","x":2372,"y":88.6},{"s":"0.55","x":2362,"y":89.5},{"s":"0.55","x":2356,"y":91.6},{"s":"0.55","x":2351,"y":98.2},{"s":"0.55","x":2347,"y":108.1},{"s":"0.55","x":2344,"y":117},{"s":"0.55","x":2341,"y":121.3},{"s":"0.55","x":2338,"y":117},{"s":"0.55","x":2335,"y":108.1},{"s":"0.55","x":2331,"y":98.2},{"s":"0.55","x":2326,"y":91.6},{"s":"0.55","x":2320,"y":89.5},{"s":"0.55","x":2310,"y":88.6},{"s":"0.55","x":2298,"y":88.3},{"s":"0.55","x":2288,"y":88.3},
{"s":"0.5","x":2387,"y":75.7},{"s":"0.5","x":2372,"y":76},{"s":"0.5","x":2362,"y":76.8},{"s":"0.5","x":2356,"y":78.8},{"s":"0.5","x":2351,"y":85},{"s":"0.5","x":2347,"y":94.3},{"s":"0.5","x":2344,"y":102.7},{"s":"0.5","x":2341,"y":106.7},{"s":"0.5","x":2338,"y":102.7},{"s":"0.5","x":2335,"y":94.3},{"s":"0.5","x":2331,"y":85},{"s":"0.5","x":2326,"y":78.8},{"s":"0.5","x":2320,"y":76.8},{"s":"0.5","x":2310,"y":76},{"s":"0.5","x":2298,"y":75.7},{"s":"0.5","x":2288,"y":75.7},
{"s":"0.4","x":2387,"y":65},{"s":"0.4","x":2372,"y":65.1},{"s":"0.4","x":2362,"y":65.4},{"s":"0.4","x":2356,"y":66.3},{"s":"0.4","x":2351,"y":68.8},{"s":"0.4","x":2347,"y":72.6},{"s":"0.4","x":2344,"y":76},{"s":"0.4","x":2341,"y":77.7},{"s":"0.4","x":2338,"y":76},{"s":"0.4","x":2335,"y":72.6},{"s":"0.4","x":2331,"y":68.8},{"s":"0.4","x":2326,"y":66.3},{"s":"0.4","x":2320,"y":65.4},{"s":"0.4","x":2310,"y":65.1},{"s":"0.4","x":2298,"y":65},{"s":"0.4","x":2288,"y":65},
{"s":"0.3","x":2387,"y":53.3},{"s":"0.3","x":2362,"y":53.4},{"s":"0.3","x":2356,"y":53.6},{"s":"0.3","x":2351,"y":54.3},{"s":"0.3","x":2347,"y":55.3},{"s":"0.3","x":2344,"y":56.2},{"s":"0.3","x":2341,"y":56.6},{"s":"0.3","x":2338,"y":56.2},{"s":"0.3","x":2335,"y":55.3},{"s":"0.3","x":2331,"y":54.3},{"s":"0.3","x":2326,"y":53.6},{"s":"0.3","x":2320,"y":53.4},{"s":"0.3","x":2288,"y":53.3},
{"s":"0.275","x":2387,"y":41.7},{"s":"0.275","x":2356,"y":41.8},{"s":"0.275","x":2341,"y":42.7},{"s":"0.275","x":2326,"y":41.8},{"s":"0.275","x":2288,"y":41.5},
{"s":"0.25","x":2387,"y":30},{"s":"0.25","x":2360,"y":30.3},{"s":"0.25","x":2341,"y":30.3},{"s":"0.25","x":2320,"y":29.8},{"s":"0.25","x":2288,"y":30},
{"s":"0.2","x":2387,"y":20},{"s":"0.2","x":2360,"y":19.7},{"s":"0.2","x":2341,"y":20.2},{"s":"0.2","x":2320,"y":19.8},{"s":"0.2","x":2288,"y":20},
{"s":"0.1","x":2387,"y":9.7},{"s":"0.1","x":2341,"y":9.7},{"s":"0.1","x":2288,"y":9.7}
],
"D2": [
{"s":"0.6","x":2385,"y":97.7},{"s":"0.6","x":2372,"y":98.1},{"s":"0.6","x":2362,"y":99.1},{"s":"0.6","x":2356,"y":101.6},{"s":"0.6","x":2351,"y":109.4},{"s":"0.6","x":2347,"y":121.1},{"s":"0.6","x":2344,"y":131.6},{"s":"0.6","x":2341,"y":136.7},{"s":"0.6","x":2338,"y":131.6},{"s":"0.6","x":2335,"y":121.1},{"s":"0.6","x":2331,"y":109.4},{"s":"0.6","x":2326,"y":101.6},{"s":"0.6","x":2320,"y":99.1},{"s":"0.6","x":2310,"y":98.1},{"s":"0.6","x":2300,"y":97.7},
{"s":"0.55","x":2385,"y":85},{"s":"0.55","x":2372,"y":85.4},{"s":"0.55","x":2362,"y":86.3},{"s":"0.55","x":2356,"y":88.8},{"s":"0.55","x":2351,"y":96.4},{"s":"0.55","x":2347,"y":107.8},{"s":"0.55","x":2344,"y":118.1},{"s":"0.55","x":2341,"y":123},{"s":"0.55","x":2338,"y":118.1},{"s":"0.55","x":2335,"y":107.8},{"s":"0.55","x":2331,"y":96.4},{"s":"0.55","x":2326,"y":88.8},{"s":"0.55","x":2320,"y":86.3},{"s":"0.55","x":2310,"y":85.4},{"s":"0.55","x":2300,"y":85},
{"s":"0.5","x":2385,"y":71.7},{"s":"0.5","x":2372,"y":72.1},{"s":"0.5","x":2362,"y":73},{"s":"0.5","x":2356,"y":75.4},{"s":"0.5","x":2351,"y":82.7},{"s":"0.5","x":2347,"y":93.7},{"s":"0.5","x":2344,"y":103.5},{"s":"0.5","x":2341,"y":108.3},{"s":"0.5","x":2338,"y":103.5},{"s":"0.5","x":2335,"y":93.7},{"s":"0.5","x":2331,"y":82.7},{"s":"0.5","x":2326,"y":75.4},{"s":"0.5","x":2320,"y":73},{"s":"0.5","x":2310,"y":72.1},{"s":"0.5","x":2300,"y":71.7},
{"s":"0.4","x":2385,"y":58.3},{"s":"0.4","x":2372,"y":58.6},{"s":"0.4","x":2362,"y":59.3},{"s":"0.4","x":2356,"y":61.1},{"s":"0.4","x":2351,"y":66.7},{"s":"0.4","x":2347,"y":75.1},{"s":"0.4","x":2344,"y":82.7},{"s":"0.4","x":2341,"y":86.3},{"s":"0.4","x":2338,"y":82.7},{"s":"0.4","x":2335,"y":75.1},{"s":"0.4","x":2331,"y":66.7},{"s":"0.4","x":2326,"y":61.1},{"s":"0.4","x":2320,"y":59.3},{"s":"0.4","x":2310,"y":58.6},{"s":"0.4","x":2300,"y":58.3},
{"s":"0.3","x":2385,"y":48.3},{"s":"0.3","x":2372,"y":48.4},{"s":"0.3","x":2362,"y":48.8},{"s":"0.3","x":2356,"y":49.6},{"s":"0.3","x":2351,"y":52.2},{"s":"0.3","x":2347,"y":56.1},{"s":"0.3","x":2344,"y":59.6},{"s":"0.3","x":2341,"y":61.3},{"s":"0.3","x":2338,"y":59.6},{"s":"0.3","x":2335,"y":56.1},{"s":"0.3","x":2331,"y":52.2},{"s":"0.3","x":2326,"y":49.6},{"s":"0.3","x":2320,"y":48.8},{"s":"0.3","x":2310,"y":48.4},{"s":"0.3","x":2300,"y":48.3},
{"s":"0.2","x":2385,"y":40},{"s":"0.2","x":2362,"y":40.1},{"s":"0.2","x":2356,"y":40.3},{"s":"0.2","x":2351,"y":40.9},{"s":"0.2","x":2347,"y":41.8},{"s":"0.2","x":2344,"y":42.6},{"s":"0.2","x":2341,"y":43},{"s":"0.2","x":2338,"y":42.6},{"s":"0.2","x":2335,"y":41.8},{"s":"0.2","x":2331,"y":40.9},{"s":"0.2","x":2326,"y":40.3},{"s":"0.2","x":2320,"y":40.1},{"s":"0.2","x":2300,"y":40},
{"s":"0.175","x":2385,"y":28.3},{"s":"0.175","x":2356,"y":28.5},{"s":"0.175","x":2341,"y":29.3},{"s":"0.175","x":2326,"y":28.5},{"s":"0.175","x":2300,"y":28},
{"s":"0.15","x":2385,"y":17.3},{"s":"0.15","x":2356,"y":17.6},{"s":"0.15","x":2341,"y":17.8},{"s":"0.15","x":2320,"y":17.3},{"s":"0.15","x":2300,"y":17.5},
{"s":"0.1","x":2385,"y":6.7},{"s":"0.1","x":2341,"y":6.7},{"s":"0.1","x":2300,"y":6.7}
],
"D3": [
{"s":"0.6","x":2385,"y":98.3},{"s":"0.6","x":2372,"y":98.7},{"s":"0.6","x":2362,"y":99.6},{"s":"0.6","x":2356,"y":102.1},{"s":"0.6","x":2351,"y":109.7},{"s":"0.6","x":2347,"y":121.1},{"s":"0.6","x":2344,"y":131.4},{"s":"0.6","x":2341,"y":136.3},{"s":"0.6","x":2338,"y":131.4},{"s":"0.6","x":2335,"y":121.1},{"s":"0.6","x":2331,"y":109.7},{"s":"0.6","x":2326,"y":102.1},{"s":"0.6","x":2320,"y":99.6},{"s":"0.6","x":2310,"y":98.7},{"s":"0.6","x":2291,"y":98.3},
{"s":"0.55","x":2385,"y":86.7},{"s":"0.55","x":2372,"y":87.1},{"s":"0.55","x":2362,"y":88},{"s":"0.55","x":2356,"y":90.4},{"s":"0.55","x":2351,"y":97.7},{"s":"0.55","x":2347,"y":108.7},{"s":"0.55","x":2344,"y":118.6},{"s":"0.55","x":2341,"y":123.4},{"s":"0.55","x":2338,"y":118.6},{"s":"0.55","x":2335,"y":108.7},{"s":"0.55","x":2331,"y":97.7},{"s":"0.55","x":2326,"y":90.4},{"s":"0.55","x":2320,"y":88},{"s":"0.55","x":2310,"y":87.1},{"s":"0.55","x":2291,"y":86.7},
{"s":"0.5","x":2385,"y":75},{"s":"0.5","x":2372,"y":75.4},{"s":"0.5","x":2362,"y":76.3},{"s":"0.5","x":2356,"y":78.7},{"s":"0.5","x":2351,"y":86},{"s":"0.5","x":2347,"y":97},{"s":"0.5","x":2344,"y":106.9},{"s":"0.5","x":2341,"y":111.7},{"s":"0.5","x":2338,"y":106.9},{"s":"0.5","x":2335,"y":97},{"s":"0.5","x":2331,"y":86},{"s":"0.5","x":2326,"y":78.7},{"s":"0.5","x":2320,"y":76.3},{"s":"0.5","x":2310,"y":75.4},{"s":"0.5","x":2291,"y":75},
{"s":"0.4","x":2385,"y":65},{"s":"0.4","x":2372,"y":65.3},{"s":"0.4","x":2362,"y":66.1},{"s":"0.4","x":2356,"y":68},{"s":"0.4","x":2351,"y":74},{"s":"0.4","x":2347,"y":83},{"s":"0.4","x":2344,"y":91.1},{"s":"0.4","x":2341,"y":95},{"s":"0.4","x":2338,"y":91.1},{"s":"0.4","x":2335,"y":83},{"s":"0.4","x":2331,"y":74},{"s":"0.4","x":2326,"y":68},{"s":"0.4","x":2320,"y":66.1},{"s":"0.4","x":2310,"y":65.3},{"s":"0.4","x":2291,"y":65},
{"s":"0.3","x":2385,"y":54.3},{"s":"0.3","x":2362,"y":54.5},{"s":"0.3","x":2356,"y":54.9},{"s":"0.3","x":2351,"y":56.1},{"s":"0.3","x":2347,"y":57.9},{"s":"0.3","x":2344,"y":59.5},{"s":"0.3","x":2341,"y":60.3},{"s":"0.3","x":2338,"y":59.5},{"s":"0.3","x":2335,"y":57.9},{"s":"0.3","x":2331,"y":56.1},{"s":"0.3","x":2326,"y":54.9},{"s":"0.3","x":2320,"y":54.5},{"s":"0.3","x":2291,"y":54.3},
{"s":"0.2","x":2385,"y":41.7},{"s":"0.2","x":2356,"y":41.9},{"s":"0.2","x":2347,"y":42.9},{"s":"0.2","x":2341,"y":43.7},{"s":"0.2","x":2335,"y":42.9},{"s":"0.2","x":2326,"y":41.9},{"s":"0.2","x":2291,"y":41.5},
{"s":"0.15","x":2385,"y":31},{"s":"0.15","x":2356,"y":31.1},{"s":"0.15","x":2341,"y":32},{"s":"0.15","x":2326,"y":31.2},{"s":"0.15","x":2291,"y":31},
{"s":"0.125","x":2385,"y":20},{"s":"0.125","x":2341,"y":20.2},{"s":"0.125","x":2291,"y":20},
{"s":"0.1","x":2385,"y":9.3},{"s":"0.1","x":2341,"y":9.3},{"s":"0.1","x":2291,"y":9.3}
]
},
"layer": [
 {"encoding": {
   "x": {"field": "x", "type": "quantitative", "scale": {"domain": [1300, 2200], "range": [240, 17], "nice": false, "zero": false},
     "axis": {"orient": "bottom", "offset": -210, "values": [2200,2100,2000,1900,1800,1700,1600,1500,1400,1300], "labelExpr": "datum.value % 200 === 0 ? datum.label : ''", "tickSize": {"condition": {"test": "datum.value % 200 === 0", "value": 5}, "value": 3}, "title": "Wavenumber (cm⁻¹)", "format": "d"}},
   "y": {"field": "y", "type": "quantitative", "scale": {"domain": [0, 152], "range": [152, 0], "nice": false, "zero": false}, "axis": null}
  },
  "layer": [
   {"data": {"values": [{"x":1722,"y":9,"y2":125},{"x":1615,"y":9,"y2":125},{"x":1319,"y":9,"y2":122},{"x":2050,"y":126,"y2":132},{"x":2019,"y":8,"y2":32}]},
    "mark": {"type": "rule", "strokeDash": [2, 2], "strokeWidth": 0.9, "color": "#666"}, "encoding": {"y2": {"field": "y2"}}},
   {"data": {"name": "A"}, "mark": {"type": "line", "strokeWidth": 1.3, "interpolate": "monotone"},
    "encoding": {"color": {"field": "s", "type": "nominal", "legend": null, "scale": {"domain": ["0.60","0.55","0.50","0.45","0.40","0.35","0.30","0.25","0.20","0.15","0.10"], "range": ["#1e1e8c","#4a7d33","#b8629e","#3b2618","#6a3f8f","#86b9e6","#2434c4","#5fb233","#bfc53a","#a8982c","#8c4a2c"]}}}},
   {"data": {"values": [{"x":2174,"y":141,"t":"(a)"},{"x":1740,"y":143.7,"t":"JM Pt/C"},{"x":2043,"y":137,"t":"Pt-CO"},{"x":1669,"y":128.7,"t":"HCOOH δ(HOH)"},{"x":1364,"y":128.7,"t":"HCOO"}]},
    "mark": {"type": "text", "fontSize": 9, "align": "center"}, "encoding": {"text": {"field": "t"}}},
   {"data": {"values": [{"x":1990,"y":134,"t":"L"},{"x":1315,"y":126,"t":"B"}]},
    "mark": {"type": "text", "fontSize": 6, "align": "left"}, "encoding": {"text": {"field": "t"}}},
   {"data": {"values": [{"x":1287,"y":116.3,"t":"0.60 V"},{"x":1287,"y":15.3,"t":"0.10 V"}]},
    "mark": {"type": "text", "fontSize": 9, "align": "left"}, "encoding": {"text": {"field": "t"}}},
   {"data": {"values": [{"x":1252,"y":72,"t":"interval = 0.05 V"}]},
    "mark": {"type": "text", "fontSize": 9.5, "angle": 90, "align": "center"}, "encoding": {"text": {"field": "t"}}},
   {"data": {"values": [{"x":2224,"y":43,"t":"Abs = 0.01"}]},
    "mark": {"type": "text", "fontSize": 9, "angle": 270, "align": "center"}, "encoding": {"text": {"field": "t"}}},
   {"data": {"values": [{"x":1281,"y":19,"y2":110},{"x":2240,"y":66,"y2":76}]},
    "mark": {"type": "rule", "color": "#000", "strokeWidth": 1}, "encoding": {"y2": {"field": "y2"}}},
   {"data": {"values": [{"x":1281,"y":111}]},
    "mark": {"type": "point", "shape": "triangle-up", "filled": true, "size": 18, "color": "#000", "opacity": 1}}
  ]
 },
 {"encoding": {
   "x": {"field": "x", "type": "quantitative", "scale": {"domain": [1300, 2200], "range": [518, 294], "nice": false, "zero": false},
     "axis": {"orient": "bottom", "offset": -207, "values": [2200,2100,2000,1900,1800,1700,1600,1500,1400,1300], "labelExpr": "datum.value % 200 === 0 ? datum.label : ''", "tickSize": {"condition": {"test": "datum.value % 200 === 0", "value": 5}, "value": 3}, "title": "Wavenumber (cm⁻¹)", "format": "d"}},
   "y": {"field": "y", "type": "quantitative", "scale": {"domain": [0, 152], "range": [152, 0], "nice": false, "zero": false}, "axis": null}
  },
  "layer": [
   {"data": {"values": [{"x":1965,"y":9,"y2":112},{"x":1722,"y":9,"y2":120},{"x":1616,"y":9,"y2":120},{"x":1327,"y":9,"y2":112},{"x":2057,"y":124,"y2":128},{"x":2030,"y":15,"y2":49}]},
    "mark": {"type": "rule", "strokeDash": [2, 2], "strokeWidth": 0.9, "color": "#666"}, "encoding": {"y2": {"field": "y2"}}},
   {"data": {"name": "B"}, "mark": {"type": "line", "strokeWidth": 1.3, "interpolate": "monotone"},
    "encoding": {"color": {"field": "s", "type": "nominal", "legend": null, "scale": {"domain": ["0.60","0.55","0.50","0.45","0.40","0.35","0.30","0.25","0.20","0.15","0.10"], "range": ["#1e1e8c","#4a7d33","#b8629e","#3b2618","#6a3f8f","#86b9e6","#2434c4","#5fb233","#bfc53a","#a8982c","#8c4a2c"]}}}},
   {"data": {"values": [{"x":2176,"y":145.3,"t":"(b)"},{"x":1713,"y":145.3,"t":"JM PtRu/C"},{"x":2062,"y":132,"t":"Pt-CO"},{"x":1952,"y":118.7,"t":"Ru-CO"},{"x":1724,"y":123.7,"t":"HCOOH"},{"x":1590,"y":122.7,"t":"δ(HOH)"},{"x":1368,"y":121,"t":"HCOO"}]},
    "mark": {"type": "text", "fontSize": 9, "align": "center"}, "encoding": {"text": {"field": "t"}}},
   {"data": {"values": [{"x":2012,"y":128.7,"t":"L"},{"x":1887,"y":116,"t":"L"},{"x":1317,"y":118.7,"t":"B"}]},
    "mark": {"type": "text", "fontSize": 6, "align": "left"}, "encoding": {"text": {"field": "t"}}},
   {"data": {"values": [{"x":1300,"y":108.7,"t":"0.60 V"},{"x":1295,"y":11.3,"t":"0.10 V"}]},
    "mark": {"type": "text", "fontSize": 9, "align": "left"}, "encoding": {"text": {"field": "t"}}},
   {"data": {"values": [{"x":1258,"y":60,"t":"interval = 0.05 V"}]},
    "mark": {"type": "text", "fontSize": 9.5, "angle": 90, "align": "center"}, "encoding": {"text": {"field": "t"}}},
   {"data": {"values": [{"x":2232,"y":57,"t":"Abs = 0.01"}]},
    "mark": {"type": "text", "fontSize": 9, "angle": 270, "align": "center"}, "encoding": {"text": {"field": "t"}}},
   {"data": {"values": [{"x":1284,"y":17,"y2":100},{"x":2243,"y":78,"y2":86}]},
    "mark": {"type": "rule", "color": "#000", "strokeWidth": 1}, "encoding": {"y2": {"field": "y2"}}},
   {"data": {"values": [{"x":1284,"y":101}]},
    "mark": {"type": "point", "shape": "triangle-up", "filled": true, "size": 18, "color": "#000", "opacity": 1}}
  ]
 },
 {"encoding": {
   "x": {"field": "x", "type": "quantitative", "scale": {"domain": [1300, 2200], "range": [242, 18], "nice": false, "zero": false},
     "axis": {"orient": "bottom", "offset": -26, "values": [2200,2100,2000,1900,1800,1700,1600,1500,1400,1300], "labelExpr": "datum.value % 200 === 0 ? datum.label : ''", "tickSize": {"condition": {"test": "datum.value % 200 === 0", "value": 5}, "value": 3}, "title": "Wavenumber (cm⁻¹)", "format": "d"}},
   "y": {"field": "y", "type": "quantitative", "scale": {"domain": [0, 151], "range": [335, 184], "nice": false, "zero": false}, "axis": null}
  },
  "layer": [
   {"data": {"values": [{"x":2055,"y":129,"y2":135},{"x":2015,"y":18,"y2":45},{"x":1976,"y":12,"y2":127},{"x":1935,"y":12,"y2":127},{"x":1725,"y":0,"y2":130},{"x":1619,"y":2,"y2":123},{"x":1332,"y":2,"y2":123}]},
    "mark": {"type": "rule", "strokeDash": [2, 2], "strokeWidth": 0.9, "color": "#666"}, "encoding": {"y2": {"field": "y2"}}},
   {"data": {"name": "C"}, "mark": {"type": "line", "strokeWidth": 1.3, "interpolate": "monotone"},
    "encoding": {"color": {"field": "s", "type": "nominal", "legend": null, "scale": {"domain": ["0.60","0.55","0.50","0.45","0.40","0.35","0.30","0.25","0.20","0.15","0.10"], "range": ["#1e1e8c","#4a7d33","#b8629e","#3b2618","#6a3f8f","#86b9e6","#2434c4","#5fb233","#bfc53a","#a8982c","#8c4a2c"]}}}},
   {"data": {"values": [{"x":2179,"y":147.7,"t":"(c)"},{"x":1679,"y":148.3,"t":"PtRu/C(DMAB)"},{"x":2076,"y":139,"t":"Pt-CO"},{"x":1949,"y":131,"t":"Ru-CO"},{"x":1745,"y":136.7,"t":"HCOOH"},{"x":1595,"y":131.7,"t":"δ(HOH)"},{"x":1375,"y":130,"t":"HCOO"}]},
    "mark": {"type": "text", "fontSize": 9, "align": "center"}, "encoding": {"text": {"field": "t"}}},
   {"data": {"values": [{"x":2019,"y":136,"t":"L"},{"x":1888,"y":129,"t":"L"},{"x":1321,"y":127.7,"t":"B"}]},
    "mark": {"type": "text", "fontSize": 6, "align": "left"}, "encoding": {"text": {"field": "t"}}},
   {"data": {"values": [{"x":1299,"y":116.7,"t":"0.60 V"},{"x":1299,"y":20,"t":"0.10 V"}]},
    "mark": {"type": "text", "fontSize": 9, "align": "left"}, "encoding": {"text": {"field": "t"}}},
   {"data": {"values": [{"x":1261,"y":66,"t":"interval = 0.05 V"}]},
    "mark": {"type": "text", "fontSize": 9.5, "angle": 90, "align": "center"}, "encoding": {"text": {"field": "t"}}},
   {"data": {"values": [{"x":2232,"y":50,"t":"Abs.= 0.005"}]},
    "mark": {"type": "text", "fontSize": 9, "angle": 270, "align": "center"}, "encoding": {"text": {"field": "t"}}},
   {"data": {"values": [{"x":1288,"y":21.7,"y2":111.5},{"x":2243,"y":73.3,"y2":85}]},
    "mark": {"type": "rule", "color": "#000", "strokeWidth": 1}, "encoding": {"y2": {"field": "y2"}}},
   {"data": {"values": [{"x":1288,"y":112.5}]},
    "mark": {"type": "point", "shape": "triangle-up", "filled": true, "size": 18, "color": "#000", "opacity": 1}}
  ]
 },
 {"encoding": {
   "x": {"field": "x", "type": "quantitative", "scale": {"domain": [2287.5, 2387.5], "range": [357.7, 295.7], "nice": false, "zero": false},
     "axis": {"orient": "bottom", "offset": -27, "values": [2387.5,2375,2362.5,2350,2337.5,2325,2312.5,2300,2287.5], "labelExpr": "datum.value % 25 === 0 ? datum.label : ''", "tickSize": {"condition": {"test": "datum.value % 25 === 0", "value": 5}, "value": 3}, "labelFontSize": 7.5, "title": null, "format": "d"}},
   "y": {"field": "y", "type": "quantitative", "scale": {"domain": [0, 151], "range": [335, 184], "nice": false, "zero": false}, "axis": null}
  },
  "layer": [
   {"data": {"values": [{"x":2341,"y":40,"y2":142}]},
    "mark": {"type": "rule", "strokeDash": [2, 2], "strokeWidth": 0.9, "color": "#666"}, "encoding": {"y2": {"field": "y2"}}},
   {"data": {"name": "D1"}, "mark": {"type": "line", "strokeWidth": 1.3, "interpolate": "monotone"},
    "encoding": {"color": {"field": "s", "type": "nominal", "legend": null, "scale": {"domain": ["0.6","0.55","0.5","0.4","0.3","0.275","0.25","0.2","0.1"], "range": ["#c2558f","#3b2618","#5b3a8e","#86b9e6","#2434c4","#5fb233","#c2c43a","#a8982c","#a0442c"]}}}},
   {"data": {"values": [{"x":2389,"y":100,"t":"0.6"},{"x":2389,"y":88.3,"t":"0.55"},{"x":2389,"y":75.7,"t":"0.5"},{"x":2389,"y":65,"t":"0.4"},{"x":2389,"y":53.3,"t":"0.3"},{"x":2389,"y":41.7,"t":"0.275"},{"x":2389,"y":30,"t":"0.25"},{"x":2389,"y":20,"t":"0.2"},{"x":2389,"y":9.7,"t":"0.1"}]},
    "mark": {"type": "text", "fontSize": 8, "align": "right"}, "encoding": {"text": {"field": "t"}}},
   {"data": {"values": [{"x":2408,"y":150,"t":"(d)"},{"x":2341,"y":150,"t":"JM Pt/C"},{"x":2321,"y":135,"t":"CO₂"}]},
    "mark": {"type": "text", "fontSize": 8, "align": "center"}, "encoding": {"text": {"field": "t"}}},
   {"data": {"values": [{"x":2410,"y":131,"t":"Abs.= 0.002"},{"x":2416,"y":112.3,"t":"Potential (V)"}]},
    "mark": {"type": "text", "fontSize": 8, "align": "left"}, "encoding": {"text": {"field": "t"}}},
   {"data": {"values": [{"x":2414,"y":121.7,"y2":141}]},
    "mark": {"type": "rule", "color": "#000", "strokeWidth": 1}, "encoding": {"y2": {"field": "y2"}}}
  ]
 },
 {"encoding": {
   "x": {"field": "x", "type": "quantitative", "scale": {"domain": [2300, 2385], "range": [448.3, 378.3], "nice": false, "zero": false},
     "axis": {"orient": "bottom", "offset": -27, "values": [2375,2362.5,2350,2337.5,2325,2312.5,2300], "labelExpr": "datum.value % 25 === 0 ? datum.label : ''", "tickSize": {"condition": {"test": "datum.value % 25 === 0", "value": 5}, "value": 3}, "labelFontSize": 8, "title": "Wavenumber (cm⁻¹)", "format": "d"}},
   "y": {"field": "y", "type": "quantitative", "scale": {"domain": [0, 151], "range": [335, 184], "nice": false, "zero": false}, "axis": null}
  },
  "layer": [
   {"data": {"values": [{"x":2340,"y":20,"y2":142}]},
    "mark": {"type": "rule", "strokeDash": [2, 2], "strokeWidth": 0.9, "color": "#666"}, "encoding": {"y2": {"field": "y2"}}},
   {"data": {"name": "D2"}, "mark": {"type": "line", "strokeWidth": 1.3, "interpolate": "monotone"},
    "encoding": {"color": {"field": "s", "type": "nominal", "legend": null, "scale": {"domain": ["0.6","0.55","0.5","0.4","0.3","0.2","0.175","0.15","0.1"], "range": ["#c2558f","#3b2618","#5b3a8e","#86b9e6","#2434c4","#5fb233","#c2c43a","#a8982c","#a0442c"]}}}},
   {"data": {"values": [{"x":2387,"y":97.7,"t":"0.6"},{"x":2387,"y":85,"t":"0.55"},{"x":2387,"y":71.7,"t":"0.5"},{"x":2387,"y":58.3,"t":"0.4"},{"x":2387,"y":48.3,"t":"0.3"},{"x":2387,"y":40,"t":"0.2"},{"x":2387,"y":28.3,"t":"0.175"},{"x":2387,"y":17.3,"t":"0.15"},{"x":2387,"y":6.7,"t":"0.1"}]},
    "mark": {"type": "text", "fontSize": 8, "align": "right"}, "encoding": {"text": {"field": "t"}}},
   {"data": {"values": [{"x":2339,"y":150,"t":"JM PtRu/C"},{"x":2325,"y":137,"t":"CO₂"}]},
    "mark": {"type": "text", "fontSize": 8, "align": "center"}, "encoding": {"text": {"field": "t"}}},
   {"data": {"values": [{"x":2393.5,"y":131,"t":"Abs.= 0.002"},{"x":2399.5,"y":114.3,"t":"Potential (V)"}]},
    "mark": {"type": "text", "fontSize": 8, "align": "left"}, "encoding": {"text": {"field": "t"}}},
   {"data": {"values": [{"x":2396,"y":121.7,"y2":141.7}]},
    "mark": {"type": "rule", "color": "#000", "strokeWidth": 1}, "encoding": {"y2": {"field": "y2"}}}
  ]
 },
 {"encoding": {
   "x": {"field": "x", "type": "quantitative", "scale": {"domain": [2291, 2385], "range": [540, 471.7], "nice": false, "zero": false},
     "axis": {"orient": "bottom", "offset": -27, "values": [2375,2362.5,2350,2337.5,2325,2312.5,2300], "labelExpr": "datum.value % 25 === 0 ? datum.label : ''", "tickSize": {"condition": {"test": "datum.value % 25 === 0", "value": 5}, "value": 3}, "labelFontSize": 8, "title": null, "format": "d"}},
   "y": {"field": "y", "type": "quantitative", "scale": {"domain": [0, 151], "range": [335, 184], "nice": false, "zero": false}, "axis": null}
  },
  "layer": [
   {"data": {"values": [{"x":2340,"y":25,"y2":142}]},
    "mark": {"type": "rule", "strokeDash": [2, 2], "strokeWidth": 0.9, "color": "#666"}, "encoding": {"y2": {"field": "y2"}}},
   {"data": {"name": "D3"}, "mark": {"type": "line", "strokeWidth": 1.3, "interpolate": "monotone"},
    "encoding": {"color": {"field": "s", "type": "nominal", "legend": null, "scale": {"domain": ["0.6","0.55","0.5","0.4","0.3","0.2","0.15","0.125","0.1"], "range": ["#c2558f","#3b2618","#5b3a8e","#86b9e6","#2434c4","#5fb233","#c2c43a","#a8982c","#a0442c"]}}}},
   {"data": {"values": [{"x":2387,"y":98.3,"t":"0.6"},{"x":2387,"y":86.7,"t":"0.55"},{"x":2387,"y":75,"t":"0.5"},{"x":2387,"y":65,"t":"0.4"},{"x":2387,"y":54.3,"t":"0.3"},{"x":2387,"y":41.7,"t":"0.2"},{"x":2387,"y":31,"t":"0.15"},{"x":2387,"y":20,"t":"0.125"},{"x":2387,"y":9.3,"t":"0.1"}]},
    "mark": {"type": "text", "fontSize": 8, "align": "right"}, "encoding": {"text": {"field": "t"}}},
   {"data": {"values": [{"x":2338,"y":150,"t":"PtRu/C(DMAB)"},{"x":2312,"y":138.3,"t":"CO₂"}]},
    "mark": {"type": "text", "fontSize": 8, "align": "center"}, "encoding": {"text": {"field": "t"}}},
   {"data": {"values": [{"x":2397,"y":131,"t":"Abs.= 0.002"},{"x":2403.5,"y":112.3,"t":"Potential (V)"}]},
    "mark": {"type": "text", "fontSize": 8, "align": "left"}, "encoding": {"text": {"field": "t"}}},
   {"data": {"values": [{"x":2399,"y":121.7,"y2":141.7}]},
    "mark": {"type": "rule", "color": "#000", "strokeWidth": 1}, "encoding": {"y2": {"field": "y2"}}}
  ]
 }
]
}
